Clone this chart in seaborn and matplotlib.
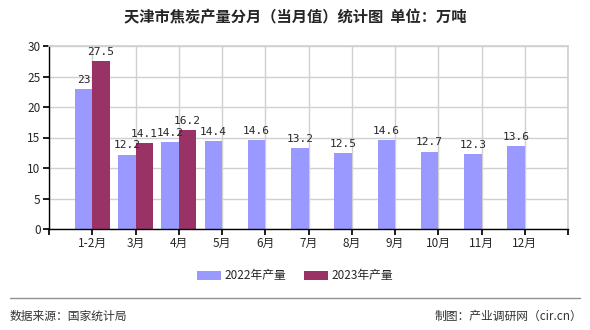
import matplotlib
matplotlib.use("Agg")
import matplotlib.pyplot as plt
import seaborn as sns
import pandas as pd
import numpy as np

months = ["1-2月", "3月", "4月", "5月", "6月", "7月", "8月", "9月", "10月", "11月", "12月"]
series_names = ["2022年产量", "2023年产量"]
values_2022 = [23, 12.2, 14.2, 14.4, 14.6, 13.2, 12.5, 14.6, 12.7, 12.3, 13.6]
values_2023 = [27.5, 14.1, 16.2, None, None, None, None, None, None, None, None]
colors = ["#9999FF", "#993366"]

sns.set_theme(style="white")
plt.rcParams['font.family'] = ['Noto Sans CJK SC', 'DejaVu Sans']

rows = []
for m, a, b in zip(months, values_2022, values_2023):
    rows.append({"month": m, "series": series_names[0], "value": a})
    if b is not None:
        rows.append({"month": m, "series": series_names[1], "value": b})
df = pd.DataFrame(rows)

fig = plt.figure(figsize=(5.9, 3.3), dpi=100)
ax = fig.add_axes([49/590, 1-229/330, (568-49)/590, (229-46)/330])

sns.barplot(data=df, x="month", y="value", hue="series", order=months,
            hue_order=series_names, palette=colors, width=0.8, ax=ax,
            saturation=1, legend=True, edgecolor="none", linewidth=0)

for cont in ax.containers:
    ax.bar_label(cont, fmt="{:g}", fontsize=8, padding=3,
                 family=['DejaVu Sans Mono'])

ax.set_xlim(-1, 11)
ax.set_ylim(0, 30)
ax.set_yticks(range(0, 31, 5))
ax.set_xticks(range(-1, 12))
ax.set_xticklabels([""] + months + [""])
ax.set_xlabel("")
ax.set_ylabel("")
ax.tick_params(axis="both", labelsize=8.5, length=4, color="black", direction="out",
               bottom=True, left=True, pad=2)
ax.grid(True, color="#d0d0d0", linewidth=1)
ax.set_axisbelow(True)
for s in ["top", "right"]:
    ax.spines[s].set_color("#d0d0d0")
for s in ["left", "bottom"]:
    ax.spines[s].set_color("black")
    ax.spines[s].set_linewidth(1)

leg = ax.get_legend()
handles, labels = ax.get_legend_handles_labels()
leg.remove()
fig.legend(handles, labels, loc="center", bbox_to_anchor=(0.5, 1-276/330), ncol=2,
           frameon=False, fontsize=8.5, handlelength=2.0, handleheight=0.8,
           columnspacing=1.5, handletextpad=0.3)

fig.text(0.5, 1-17/330, "天津市焦炭产量分月（当月值）统计图  单位：万吨",
         ha="center", va="center", fontsize=11, fontweight="bold")
fig.add_artist(plt.Line2D([10/590, 580/590], [1-298/330, 1-298/330],
                          color="#909090", linewidth=1.0, transform=fig.transFigure))
fig.text(10/590, 1-316/330, "数据来源：国家统计局", ha="left", va="center", fontsize=8.5,
         color="#333333")
fig.text(582/590, 1-316/330, "制图：产业调研网（cir.cn）", ha="right", va="center",
         fontsize=8.5, color="#333333")

fig.savefig("out.png", dpi=100)
